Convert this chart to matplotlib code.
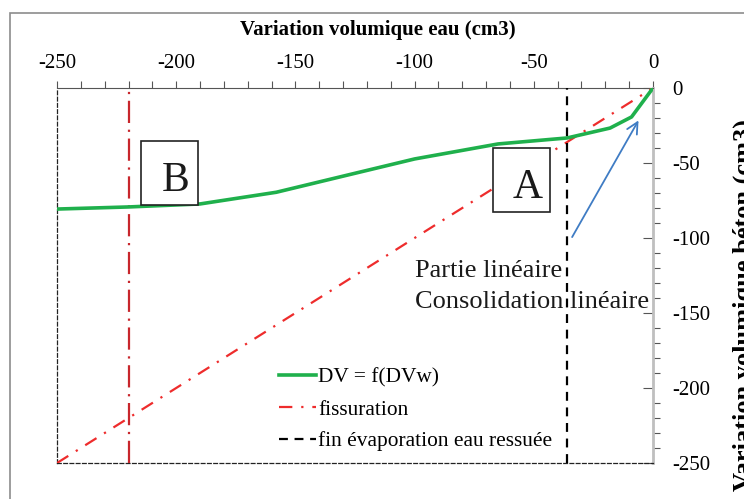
import matplotlib
matplotlib.use('Agg')
import matplotlib.pyplot as plt
import matplotlib.patches as patches
from matplotlib.ticker import MultipleLocator

plt.rcParams['font.family'] = ['Liberation Serif', 'DejaVu Serif']
plt.rcParams['axes.unicode_minus'] = False

# Donnees
dvw = [-250, -220, -190, -158, -128, -100, -65, -36, -18, -9, 0]
dv = [-80.7, -79.3, -77.3, -69.5, -58, -47.3, -37.3, -33.3, -26.7, -19.3, 0]

fiss_x = [-250, 0]
fiss_y = [-250, 0]
x_fiss_vert = -220
x_fin_evap = -36

fig = plt.figure(figsize=(7.44, 4.99), dpi=100)
# cadre gris exterieur
fig.patches.append(patches.Rectangle((10/744, -0.1), 1.2, 1 - 13/499 + 0.1,
                                     transform=fig.transFigure, fill=False,
                                     ec='#8C8C8C', lw=1.2))

ax = fig.add_axes([57/744, 1 - 463/499, (653 - 57)/744, (463 - 88)/499])

ax.plot(dvw, dv, color='#1FB04C', lw=2.6, label='DV = f(DVw)', zorder=4)
ax.plot(fiss_x, fiss_y, color='#EE2C2C', lw=1.6, ls=(0, (6, 4, 1, 4)),
        label='fissuration', zorder=3)
ax.plot([x_fiss_vert, x_fiss_vert], [-250, 0], color='#C8262C', lw=1.6,
        ls=(0, (10, 3, 1, 3)), zorder=3)
ax.plot([x_fin_evap, x_fin_evap], [-250, 0], color='black', lw=1.6,
        ls=(0, (4, 3)), label='fin évaporation eau ressuée', zorder=3)

# boites A et B
for letter, x0, y0 in [('B', -214.8, -78), ('A', -67.1, -82.7)]:
    ax.add_patch(patches.Rectangle((x0, y0), 23.8, 42.7, fc='white', ec='#222222',
                                   lw=1.2, zorder=5))
    ax.text(x0 + 14.6, y0 + 9.3, letter, fontsize=30, ha='center', va='baseline',
            color='#1a1a1a', zorder=6)

ax.text(-99.8, -126, 'Partie linéaire', fontsize=19, ha='left', va='baseline',
        color='#1a1a1a')
ax.text(-99.8, -146.7, 'Consolidation linéaire', fontsize=19, ha='left',
        va='baseline', color='#1a1a1a')

ax.annotate('', xy=(-5.5, -20), xytext=(-34.5, -101),
            arrowprops=dict(arrowstyle='->,head_length=0.8,head_width=0.4',
                            color='#3F7CC4', lw=1.3), zorder=6)

ax.set_xlim(-250, 0)
ax.set_ylim(-250, 0)

ax.xaxis.set_ticks_position('top')
ax.xaxis.set_label_position('top')
ax.yaxis.set_ticks_position('right')
ax.xaxis.set_major_locator(MultipleLocator(50))
ax.xaxis.set_minor_locator(MultipleLocator(10))
ax.yaxis.set_major_locator(MultipleLocator(50))
ax.yaxis.set_minor_locator(MultipleLocator(10))
ax.tick_params(axis='x', which='both', direction='out', length=5, width=0.8,
               color='#555555', labelsize=15, pad=6)
ax.tick_params(axis='y', which='major', direction='in', length=7, width=0.8,
               color='#555555', labelsize=15, pad=14)
ax.tick_params(axis='y', which='minor', direction='out', length=5, width=0.8,
               color='#555555')

ax.set_xlabel('Variation volumique eau (cm3)', fontsize=15, fontweight='bold',
              va='center')
ax.xaxis.set_label_coords((377.5 - 57)/596, (463 - 30)/375)
# libelle vertical coupe au bord droit, comme sur l'original
fig.text(733/744, 1 - 305/499, 'Variation volumique béton (cm3)', fontsize=19,
         fontweight='bold', rotation=90, ha='left', va='center')

ax.spines['top'].set_color('#555555')
ax.spines['right'].set_color('#BFBFBF')
ax.spines['right'].set_linewidth(2)
for s in ['left', 'bottom']:
    ax.spines[s].set_linestyle((0, (3, 2)))
    ax.spines[s].set_linewidth(0.9)
    ax.spines[s].set_color('#222222')

ax.legend(loc='lower left', bbox_to_anchor=(0.358, 0.008), frameon=False,
          fontsize=15.4, handlelength=1.75, handletextpad=0.1, labelspacing=0.55,
          borderaxespad=0)

fig.savefig('out.png', dpi=100, facecolor='white')
